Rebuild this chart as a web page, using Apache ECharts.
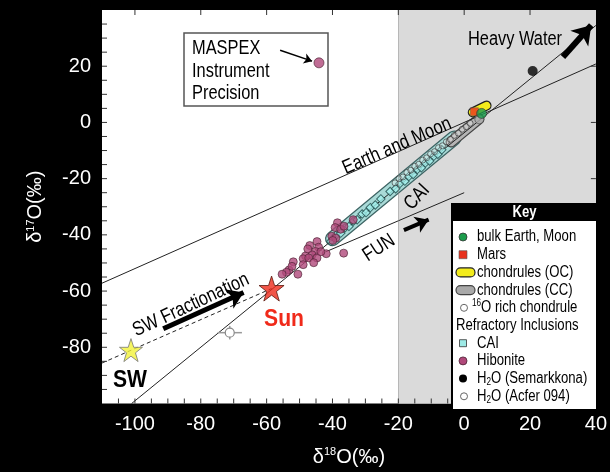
<!DOCTYPE html>
<html><head><meta charset="utf-8">
<script src="https://cdn.jsdelivr.net/npm/echarts@6/dist/echarts.min.js"></script>
<style>html,body{margin:0;padding:0;background:#000}#c{width:610px;height:472px}</style>
</head><body><div id="c"></div>
<script>
const FONT = "'Liberation Sans',Arial,sans-serif";
const SX = 0.82; // horizontal condensing for annotation text

// ---- tick labels and tick marks ----
const xTickLabels = [-100, -80, -60, -40, -20, 0, 20, 40];
const yTickLabels = [-80, -60, -40, -20, 0, 20];
const xBottomTicks = [-105, -100, -95, -90, -85, -80, -75, -70, -65, -60, -55, -50, -45, -40, -35, -30, -25, -20, -15, -10, -5, 0, 5, 10, 15, 20, 25, 30, 35];
const xTopTicks = [-100, -80, -60, -40, -20, 0, 20];
const yLeftTicks = [-95, -90, -85, -80, -75, -70, -65, -60, -55, -50, -45, -40, -35, -30, -25, -20, -15, -10, -5, 0, 5, 10, 15, 20, 25, 30, 35];
const yRightTicks = [-80, -60, -40, -20, 0, 20];

// ---- data (delta18O, delta17O) ----
const hibonite = [
  [-38.5,-35.7],[-39.2,-37.4],[-37.5,-38.0],[-36.5,-36.9],[-33.7,-34.6],[-40.2,-40.5],
  [-39.0,-41.2],[-39.9,-42.0],[-44.7,-42.4],[-46.9,-43.8],[-44.2,-44.4],[-45.2,-45.9],
  [-46.2,-47.1],[-48.2,-47.5],[-48.9,-48.5],[-47.2,-48.2],[-44.7,-48.2],[-45.7,-49.9],
  [-48.9,-50.6],[-51.9,-49.6],[-53.2,-52.5],[-54.0,-53.3],[-55.3,-54.0],[-50.5,-54.0],
  [-52.3,-51.2],[-41.9,-46.7],[-36.6,-46.5],[-47.5,-45.0],[-43.5,-46.0]
];
const caiPoints = [
  [-40.5,-42.3],[-39.0,-40.2],[-37.5,-39.4],[-36.2,-37.5],[-35.0,-37.0],[-33.6,-35.1],
  [-32.5,-34.6],[-31.0,-32.6],[-29.8,-32.1],[-28.5,-30.3],[-27.0,-29.4],[-25.3,-27.2],
  [-22.5,-24.6],[-20.8,-23.6],[-19.5,-21.7],[-18.0,-20.9],[-16.8,-19.2],[-15.5,-18.5],
  [-14.2,-16.7],[-13.0,-16.1],[-11.8,-14.4],[-10.5,-13.7],[-9.2,-12.0],[-8.0,-11.3],[-6.8,-9.7]
];
const chondrules16O = [
  [-21.0,-21.5],[-19.8,-20.0],[-18.6,-19.4],[-17.4,-17.8],[-16.2,-17.0],[-15.0,-15.6],
  [-13.8,-14.9],[-12.6,-13.4],[-11.4,-12.6],[-10.2,-11.2],[-9.0,-10.4],[-7.8,-9.0],
  [-6.6,-8.3],[-5.4,-6.9],[-4.2,-6.0],[-3.0,-4.6],[-1.8,-3.8],[-0.6,-2.4],[0.6,-1.5],[1.8,-0.3]
];
const maspexPoint = [[-44.1, 21.2]];
const sunPoint = [[-58.5, -59.1]];
const swPoint = [[-101.2, -81.0]];
const earthMoon = [[5.3, 3.2]];
const marsPoint = [[3.1, 3.8]];
const ccChondrule = [[4.6, 1.1]];
const semarkkonaH2O = [[20.8, 18.3]];
const acferH2O = [[-71.2, -74.8]];
const acferErr = [[3.7, 2.4]];

// reference lines / fields
const tflLine = [[-110, -57.2], [40, 20.8]];
const slope1Line = [[-101, -100], [40, 34.5]];
const funLine = [[-42, -46], [0, -25]];
const swLine = [[-110, -85.6], [-58.5, -59.1]];
const caiField = [[-40, -41.4], [-3, -5.5]];
const ccField = [[-4, -7], [4.5, 1.2]];
const ocField = [[2.6, 3.6], [6.8, 6.0]];

// arrows
const swArrow = [[-91.4, -73.4], [-67.0, -60.5]];
const funArrow = [[-18.3, -38.3], [-10.8, -34.6]];
const heavyArrow = [[30.0, 23.3], [38.6, 34.6]];
const maspexArrow = [[-55.9, 25.7], [-46.2, 21.8]];

// key
const keyLabels = ['bulk Earth, Moon', 'Mars', 'chondrules (OC)', 'chondrules (CC)',
  '{s|16}O rich chondrule', 'Refractory Inclusions', 'CAI', 'Hibonite',
  'H{b|2}O (Semarkkona)', 'H{b|2}O (Acfer 094)'];
const keySymbols = ['green', 'mars', 'oc', 'cc', 'open', 'none', 'cai', 'hib', 'black', 'open'];

const STAR = 'path://M50,0 L61.8,35.1 L98.9,35.1 L69.1,57.3 L80.2,92.7 L50,70.8 L19.8,92.7 L30.9,57.3 L1.1,35.1 L38.2,35.1 Z';

function lineSeries(data, style, z) {
  return { type: 'line', data: data, showSymbol: false, symbol: 'none', silent: true, z: z || 3,
    lineStyle: style };
}
function arrowSeries(seg, width, head) {
  return { type: 'line', data: [], silent: true, z: 6,
    markLine: { silent: true, symbol: ['none', 'arrow'], symbolSize: head, label: { show: false },
      itemStyle: { color: '#000' },
      lineStyle: { color: '#000', width: width, type: 'solid' },
      emphasis: { disabled: true },
      data: [[{ coord: seg[0] }, { coord: seg[1] }]] } };
}

const chart = echarts.init(document.getElementById('c'));

// key graphics
const kx0 = 452, kx1 = 597, ky0 = 204, ky1 = 410;
const keyEls = [
  { type: 'rect', shape: { x: kx0, y: ky0, width: kx1 - kx0, height: ky1 - ky0 }, style: { fill: '#fff', stroke: '#000', lineWidth: 2 }, z: 100 },
  { type: 'rect', shape: { x: kx0, y: ky0, width: kx1 - kx0, height: 17 }, style: { fill: '#000' }, z: 101 },
  { type: 'text', x: (kx0 + kx1) / 2, y: ky0 + 9, scaleX: SX, z: 102, style: { text: 'Key', fill: '#fff', fontSize: 16, fontWeight: 'bold', fontFamily: FONT, align: 'center', verticalAlign: 'middle', textAlign: 'center', textVerticalAlign: 'middle' } }
];
keyLabels.forEach((lab, i) => {
  const cy = 237 + i * 17.7;
  const sym = keySymbols[i];
  const sx = 463;
  let tx = 477;
  if (sym === 'green') keyEls.push({ type: 'circle', z: 102, shape: { cx: sx, cy: cy, r: 4 }, style: { fill: '#1c9c4c', stroke: '#333', lineWidth: 0.8 } });
  if (sym === 'mars') keyEls.push({ type: 'rect', z: 102, shape: { x: sx - 4, y: cy - 4, width: 8, height: 8 }, style: { fill: '#e8321e', stroke: '#555', lineWidth: 0.6 } });
  if (sym === 'oc') keyEls.push({ type: 'rect', z: 102, shape: { x: 456, y: cy - 4.5, width: 19, height: 9, r: 4.5 }, style: { fill: '#f3ec1c', stroke: '#222', lineWidth: 1.2 } });
  if (sym === 'cc') keyEls.push({ type: 'rect', z: 102, shape: { x: 456, y: cy - 4.5, width: 19, height: 9, r: 4.5 }, style: { fill: '#a9a9a9', stroke: '#444', lineWidth: 1.2 } });
  if (sym === 'open') { keyEls.push({ type: 'circle', z: 102, shape: { cx: sx + 1, cy: cy, r: 3.5 }, style: { fill: '#fff', stroke: '#666', lineWidth: 1 } }); }
  if (sym === 'cai') keyEls.push({ type: 'rect', z: 102, shape: { x: sx - 3.5, y: cy - 3.5, width: 7, height: 7 }, style: { fill: '#9eeae6', stroke: '#333', lineWidth: 0.8 } });
  if (sym === 'hib') keyEls.push({ type: 'circle', z: 102, shape: { cx: sx, cy: cy, r: 4 }, style: { fill: '#b0487a', stroke: '#4a2233', lineWidth: 0.8 } });
  if (sym === 'black') keyEls.push({ type: 'circle', z: 102, shape: { cx: sx, cy: cy, r: 4 }, style: { fill: '#000' } });
  if (sym === 'none') tx = 456;
  if (i === 4) tx = 472;
  keyEls.push({ type: 'text', x: tx, y: cy, scaleX: SX, z: 102, style: {
    text: lab, fill: '#000', fontSize: 16, fontFamily: FONT, verticalAlign: 'middle', textVerticalAlign: 'middle',
    rich: { s: { fontSize: 10, fontFamily: FONT, fill: '#000', padding: [0, 0, 9, 0] },
            b: { fontSize: 10, fontFamily: FONT, fill: '#000', padding: [8, 0, 0, 0] } } } });
});

function label(text, x, y, rotDeg, opts) {
  opts = opts || {};
  return { type: 'text', x: x, y: y, rotation: (rotDeg || 0) * Math.PI / 180, scaleX: opts.sx || SX, z: 90, style: {
    text: text, fill: opts.color || '#000', fontSize: opts.size || 20, fontWeight: opts.weight || 'normal',
    fontFamily: FONT, align: opts.align || 'center', verticalAlign: 'middle',
    textAlign: opts.align || 'center', textVerticalAlign: 'middle' } };
}

const annot = [
  { type: 'rect', z: 90, shape: { x: 184, y: 33, width: 144, height: 73 }, style: { fill: 'rgba(0,0,0,0)', stroke: '#555', lineWidth: 1.5 } },
  label('MASPEX', 192, 48, 0, { align: 'left' }),
  label('Instrument', 192, 71, 0, { align: 'left' }),
  label('Precision', 192, 93, 0, { align: 'left' }),
  label('Earth and Moon', 397, 146, 23.5),
  label('CAI', 417, 197, 47),
  label('FUN', 379, 248, 33),
  label('Heavy Water', 515, 39, 0),
  label('SW Fractionation', 191, 305, 25),
  label('Sun', 284, 319, 0, { color: '#f02a1a', weight: 'bold', size: 24, sx: 0.88 }),
  label('SW', 130, 380, 0, { weight: 'bold', size: 24, sx: 0.88 })
];

const axisFont = { color: '#fff', fontSize: 20, fontFamily: FONT };
const nameStyle = { color: '#fff', fontSize: 20, fontFamily: FONT,
  rich: { a: { color: '#fff', fontSize: 20, fontFamily: FONT }, s: { color: '#fff', fontSize: 11, fontFamily: FONT, padding: [0, 0, 10, 0] } } };

// tick marks: side 0 bottom, 1 top, 2 left, 3 right
const tickData = [].concat(
  xBottomTicks.map(v => [v, 0]), xTopTicks.map(v => [v, 1]),
  yLeftTicks.map(v => [v, 2]), yRightTicks.map(v => [v, 3]));
const TL = 5;

chart.setOption({
  animation: false,
  backgroundColor: '#000',
  grid: { left: 102, right: 13, top: 10, bottom: 62, show: true, backgroundColor: '#fff', borderWidth: 0 },
  xAxis: [
    { type: 'value', min: -110, max: 40, interval: 5, position: 'bottom',
      name: '{a|δ}{s|18}{a|O(‰)}', nameLocation: 'middle', nameGap: 43, nameTextStyle: nameStyle,
      axisLine: { show: false, onZero: false },
      axisTick: { show: false },
      axisLabel: Object.assign({ margin: 11, formatter: v => xTickLabels.includes(v) ? String(v) : '' }, axisFont),
      splitLine: { show: false } }
  ],
  yAxis: [
    { type: 'value', min: -100, max: 40, interval: 5, position: 'left',
      name: '{a|δ}{s|17}{a|O(‰)}', nameLocation: 'middle', nameGap: 56, nameTextStyle: nameStyle,
      axisLine: { show: false, onZero: false },
      axisTick: { show: false },
      axisLabel: Object.assign({ margin: 11, formatter: v => yTickLabels.includes(v) ? String(v) : '' }, axisFont),
      splitLine: { show: false } }
  ],
  series: [
    { type: 'line', data: [], silent: true, z: 1,
      markArea: { silent: true, itemStyle: { color: '#dadada' }, data: [[{ xAxis: -20 }, { xAxis: 40 }]] },
      markLine: { silent: true, symbol: 'none', label: { show: false }, lineStyle: { color: '#888', type: 'dotted', width: 1 }, data: [{ xAxis: -20 }] } },
    { type: 'custom', silent: true, z: 7, clip: false, data: tickData,
      renderItem: (params, api) => {
        const cs = params.coordSys;
        const v = api.value(0), side = api.value(1);
        let shape;
        if (side < 2) {
          const px = api.coord([v, 0])[0];
          const y0 = side === 0 ? cs.y + cs.height : cs.y;
          shape = { x1: px, y1: y0, x2: px, y2: side === 0 ? y0 - TL : y0 + TL };
        } else {
          const py = api.coord([0, v])[1];
          const x0 = side === 2 ? cs.x : cs.x + cs.width;
          shape = { x1: x0, y1: py, x2: side === 2 ? x0 + TL : x0 - TL, y2: py };
        }
        return { type: 'line', shape: shape, style: { stroke: '#333', lineWidth: 1 } };
      } },
    lineSeries(tflLine, { color: '#222', width: 1 }),
    lineSeries(swLine, { color: '#222', width: 1, type: [4, 3] }),
    lineSeries(funLine, { color: '#222', width: 1 }),
    lineSeries(caiField, { color: '#3e6464', width: 15, cap: 'round' }, 2),
    lineSeries(caiField, { color: '#a9dad7', width: 12.5, cap: 'round' }, 2),
    lineSeries(ccField, { color: '#444', width: 11, cap: 'round' }, 2),
    lineSeries(ccField, { color: '#b4b4b4', width: 8.5, cap: 'round' }, 2),
    lineSeries(slope1Line, { color: '#222', width: 1 }),
    { type: 'scatter', data: caiPoints, symbol: 'rect', symbolSize: 6, symbolRotate: 45, z: 4, silent: true,
      itemStyle: { color: '#a2f0ec', borderColor: '#1e4a4a', borderWidth: 1 } },
    { type: 'scatter', data: chondrules16O, symbol: 'circle', symbolSize: 6, z: 4, silent: true,
      itemStyle: { color: 'rgba(255,255,255,0.35)', borderColor: '#333', borderWidth: 0.8 } },
    lineSeries(ocField, { color: '#222', width: 10, cap: 'round' }, 4),
    lineSeries(ocField, { color: '#f3ec1c', width: 7.5, cap: 'round' }, 4),
    { type: 'scatter', data: ccChondrule, symbolSize: 9, z: 5, silent: true, itemStyle: { color: '#aaa', borderColor: '#444', borderWidth: 0.8 } },
    { type: 'scatter', data: marsPoint, symbol: 'rect', symbolSize: 8, z: 5, silent: true, itemStyle: { color: '#e8321e', borderColor: '#555', borderWidth: 0.6 } },
    { type: 'scatter', data: earthMoon, symbolSize: 10, z: 5, silent: true, itemStyle: { color: '#1c9c4c', borderColor: '#333', borderWidth: 0.8 } },
    { type: 'scatter', data: hibonite, symbolSize: 8, z: 5, silent: true, itemStyle: { color: '#b0487a', borderColor: '#4a2233', borderWidth: 0.8 } },
    { type: 'scatter', data: maspexPoint, symbolSize: 10, z: 5, silent: true, itemStyle: { color: '#b0487a', borderColor: '#4a2233', borderWidth: 0.8 } },
    { type: 'scatter', data: semarkkonaH2O, symbolSize: 10, z: 5, silent: true, itemStyle: { color: '#000' } },
    { type: 'custom', z: 5, silent: true,
      data: acferH2O.map((p, i) => [p[0], p[1], acferErr[i][0], acferErr[i][1]]),
      encode: { x: 0, y: 1 },
      renderItem: (params, api) => {
        const x = api.value(0), y = api.value(1), ex = api.value(2), ey = api.value(3);
        const c = api.coord([x, y]), l = api.coord([x - ex, y]), r = api.coord([x + ex, y]);
        const t = api.coord([x, y + ey]), b = api.coord([x, y - ey]);
        return { type: 'group', children: [
          { type: 'line', shape: { x1: l[0], y1: l[1], x2: r[0], y2: r[1] }, style: { stroke: '#999', lineWidth: 1.5 } },
          { type: 'line', shape: { x1: t[0], y1: t[1], x2: b[0], y2: b[1] }, style: { stroke: '#999', lineWidth: 1.5 } },
          { type: 'circle', shape: { cx: c[0], cy: c[1], r: 4.5 }, style: { fill: '#fff', stroke: '#888', lineWidth: 1.2 } }
        ] };
      } },
    { type: 'scatter', data: sunPoint, symbol: STAR, symbolSize: 25, z: 6, silent: true, itemStyle: { color: '#ee2a1a', borderColor: '#5a1a10', borderWidth: 1 } },
    { type: 'scatter', data: swPoint, symbol: STAR, symbolSize: 23, z: 6, silent: true, itemStyle: { color: '#f2f23a', borderColor: '#777', borderWidth: 1 } },
    arrowSeries(swArrow, 5, 16),
    arrowSeries(funArrow, 4, 13),
    arrowSeries(heavyArrow, 6, 18),
    arrowSeries(maspexArrow, 1.5, 8)
  ],
  graphic: annot.concat(keyEls)
});
</script></body></html>
